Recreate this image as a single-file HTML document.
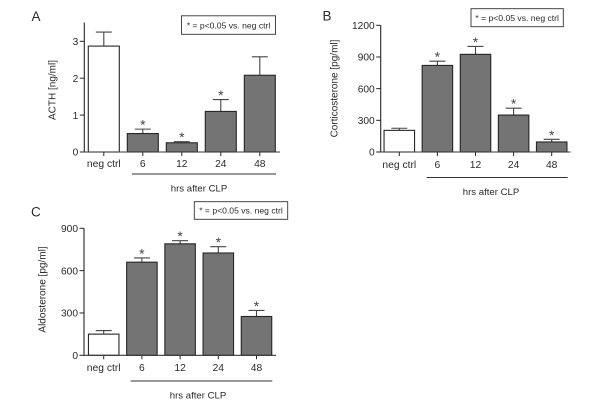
<!DOCTYPE html>
<html lang="en">
<head>
<meta charset="utf-8">
<title>Hormone levels after CLP</title>
<style>
html,body{margin:0;padding:0;background:#fff;width:600px;height:415px;overflow:hidden}
svg{display:block;font-family:"Liberation Sans",sans-serif;fill:#2a2a2a;filter:blur(0.3px)}
text{font-size:10px}
</style>
</head>
<body>
<svg id="figure" width="600" height="415" viewBox="0 0 600 415" xmlns="http://www.w3.org/2000/svg"></svg>
<script>
const categories = ["neg ctrl", "6", "12", "24", "48"];

const acthValues = [2.87, 0.5, 0.25, 1.1, 2.08];
const acthErrors = [0.38, 0.12, 0.03, 0.32, 0.5];
const acthStars = [false, true, true, true, false];
const acthTicks = [0, 1, 2, 3];

const corticoValues = [205, 820, 925, 350, 95];
const corticoErrors = [20, 40, 75, 65, 25];
const corticoStars = [false, true, true, true, true];
const corticoTicks = [0, 300, 600, 900, 1200];

const aldoValues = [150, 660, 790, 725, 275];
const aldoErrors = [25, 30, 22, 45, 43];
const aldoStars = [false, true, true, true, true];
const aldoTicks = [0, 300, 600, 900];

const svg = document.getElementById('figure');
const NS = 'http://www.w3.org/2000/svg';

function make(parent, tag, attrs, name, text) {
  const el = document.createElementNS(NS, tag);
  for (const k in attrs) el.setAttribute(k, attrs[k]);
  
  
  if (text !== undefined) el.textContent = text;
  parent.appendChild(el);
  return el;
}

function panel(p) {
  const g = make(svg, 'g', {}, p.id + '-panel');
  const yScale = v => p.base - (v - 0) * (p.base - p.topY) / p.topValue;
  const xScale = i => p.firstX + i * p.step;
  const ink = '#262626';

  make(g, 'text', {x: p.letter[0], y: p.letter[1], style: 'font-size:13.5px'}, p.id + '-panel-letter', p.letterText);

  p.values.forEach((v, i) => {
    const cx = xScale(i);
    const top = yScale(v);
    const errTop = yScale(v + p.errors[i]);
    make(g, 'line', {x1: cx, x2: cx, y1: top, y2: errTop, stroke: '#444', 'stroke-width': 1.1}, 'error-bar-' + p.id + '-' + categories[i]);
    make(g, 'line', {x1: cx - 8, x2: cx + 8, y1: errTop, y2: errTop, stroke: '#444', 'stroke-width': 1.1}, 'error-cap-' + p.id + '-' + categories[i]);
    make(g, 'rect', {
      x: cx - p.barW / 2, y: top, width: p.barW, height: p.base - top,
      fill: i === 0 ? '#ffffff' : '#747474', stroke: ink, 'stroke-width': 1.1
    }, 'bar-' + p.id + '-' + categories[i]);
    make(g, 'line', {x1: cx, x2: cx, y1: p.base, y2: p.base + 4, stroke: ink, 'stroke-width': 1}, 'x-tick-' + p.id + '-' + categories[i]);
    make(g, 'text', {x: cx, y: p.labelY, 'text-anchor': 'middle', style: 'font-size:10.3px'}, 'x-label-' + p.id + '-' + categories[i], categories[i]);
    if (p.stars[i]) {
      make(g, 'text', {x: cx, y: errTop + 0.5, 'text-anchor': 'middle', style: 'font-size:14px;fill:#444'}, 'significance-star-' + p.id + '-' + categories[i], '*');
    }
  });

  make(g, 'line', {x1: p.axisX, x2: p.axisX, y1: p.base, y2: p.axisTop, stroke: ink, 'stroke-width': 1.1}, p.id + '-y-axis');
  make(g, 'line', {x1: p.axisX - 0.5, x2: p.axisEnd, y1: p.base, y2: p.base, stroke: '#3a3a3a', 'stroke-width': 1.1}, p.id + '-x-axis');

  p.ticks.forEach(t => {
    const y = yScale(t);
    make(g, 'line', {x1: p.axisX - 4.5, x2: p.axisX, y1: y, y2: y, stroke: ink, 'stroke-width': 1}, p.id + '-y-tick-' + t);
    make(g, 'text', {x: p.axisX - 6, y: y + 3.7, 'text-anchor': 'end', style: 'font-size:10.2px'}, p.id + '-y-label-' + t, String(t));
  });

  make(g, 'text', {
    x: p.title[0], y: p.title[1], 'text-anchor': 'middle', style: 'font-size:10px',
    transform: 'rotate(-90 ' + p.title[0] + ' ' + p.title[1] + ')'
  }, p.id + '-y-axis-title', p.titleText);

  make(g, 'line', {x1: p.bracket[0], x2: p.bracket[1], y1: p.bracket[2], y2: p.bracket[2], stroke: '#333', 'stroke-width': 1}, p.id + '-time-bracket');
  make(g, 'text', {x: p.hrs[0], y: p.hrs[1], 'text-anchor': 'middle', style: 'font-size:9.6px'}, p.id + '-x-axis-title', 'hrs after CLP');

  const b = p.legend;
  make(g, 'rect', {x: b[0], y: b[1], width: b[2], height: b[3], fill: '#fff', stroke: '#333', 'stroke-width': 0.9}, p.id + '-legend-box');
  make(g, 'text', {x: b[0] + b[2] / 2, y: b[1] + b[3] / 2 + 3.2, 'text-anchor': 'middle', style: 'font-size:8.6px'}, p.id + '-legend-text', '* = p<0.05 vs. neg ctrl');
}

panel({
  id: 'acth', letterText: 'A', letter: [31.5, 21],
  values: acthValues, errors: acthErrors, stars: acthStars, ticks: acthTicks,
  base: 152, topY: 41.3, topValue: 3, axisX: 84.3, axisTop: 22.5, axisEnd: 280,
  firstX: 103.8, step: 39, barW: 31, labelY: 167,
  title: [55.5, 90], titleText: 'ACTH [ng/ml]',
  bracket: [132, 276, 174], hrs: [199, 191.5],
  legend: [181.5, 15.8, 94, 18.5]
});

panel({
  id: 'corticosterone', letterText: 'B', letter: [322.5, 20.5],
  values: corticoValues, errors: corticoErrors, stars: corticoStars, ticks: corticoTicks,
  base: 152, topY: 25.3, topValue: 1200, axisX: 380.7, axisTop: 25.3, axisEnd: 570.5,
  firstX: 399.3, step: 38.1, barW: 30.5, labelY: 168,
  title: [337.5, 88.5], titleText: 'Corticosterone [pg/ml]',
  bracket: [426.7, 567.7, 177.5], hrs: [491, 195],
  legend: [471, 8.7, 92.3, 18]
});

panel({
  id: 'aldosterone', letterText: 'C', letter: [31, 216.5],
  values: aldoValues, errors: aldoErrors, stars: aldoStars, ticks: aldoTicks,
  base: 355.3, topY: 228.3, topValue: 900, axisX: 84, axisTop: 228.3, axisEnd: 276,
  firstX: 103.7, step: 38.2, barW: 30.5, labelY: 371,
  title: [45.5, 289.5], titleText: 'Aldosterone [pg/ml]',
  bracket: [130.7, 272.3, 381], hrs: [198, 398.5],
  legend: [194.3, 201.7, 93.4, 17.6]
});
</script>
</body>
</html>
